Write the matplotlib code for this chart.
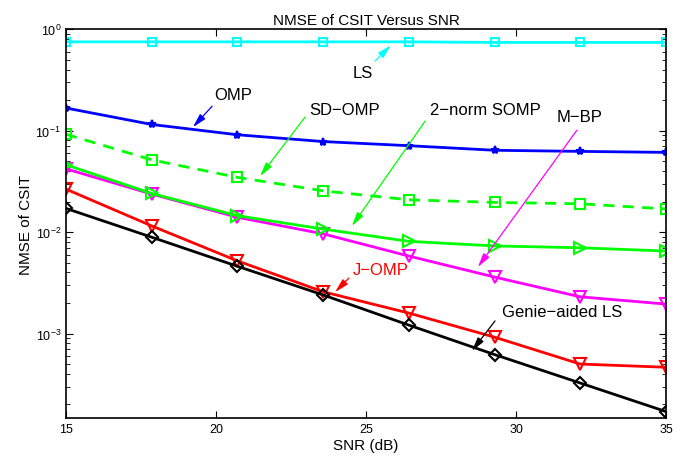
import matplotlib
matplotlib.use("Agg")
import matplotlib.pyplot as plt

plt.rcParams['font.family'] = ['Liberation Sans', 'DejaVu Sans']
plt.rcParams['axes.unicode_minus'] = True

snr = [15, 17.857, 20.714, 23.571, 26.429, 29.286, 32.143, 35]

# NMSE values
ls_vals = [0.75, 0.75, 0.75, 0.75, 0.75, 0.74, 0.74, 0.74]
omp_vals = [0.167, 0.115, 0.091, 0.078, 0.071, 0.064, 0.0624, 0.061]
sdomp_vals = [0.092, 0.0515, 0.0346, 0.0255, 0.0208, 0.0196, 0.019, 0.0169]
somp_vals = [0.046, 0.024, 0.0145, 0.0107, 0.0081, 0.0073, 0.0070, 0.0065]
mbp_vals = [0.042, 0.0237, 0.0140, 0.0096, 0.0058, 0.0036, 0.0023, 0.00195]
jomp_vals = [0.0265, 0.0115, 0.0052, 0.00258, 0.00159, 0.00092, 0.0005, 0.000465]
genie_vals = [0.0171, 0.0089, 0.0046, 0.0024, 0.00121, 0.00062, 0.000325, 0.00017]

fig = plt.figure(figsize=(6.99, 4.64), dpi=100)
ax = fig.add_axes([0.0944, 0.097, 0.8584, 0.838])

lw = 2.0
ax.semilogy(snr, ls_vals, color='cyan', lw=lw, marker='s', ms=6, mfc='none', mew=1.5)
ax.semilogy(snr, omp_vals, color='blue', lw=lw, marker='*', ms=6, mew=1.5)
ax.semilogy(snr, sdomp_vals, color='#00ff00', lw=lw, ls='--', dashes=(4, 3), marker='s', ms=7, mfc='none', mew=1.5)
ax.semilogy(snr, mbp_vals, color='magenta', lw=lw, marker='v', ms=9, mfc='none', mew=1.5)
ax.semilogy(snr, somp_vals, color='#00ff00', lw=lw, marker='>', ms=9, mfc='none', mew=1.5)
ax.semilogy(snr, jomp_vals, color='red', lw=lw, marker='v', ms=9, mfc='none', mew=1.5)
ax.semilogy(snr, genie_vals, color='black', lw=lw, marker='D', ms=6, mfc='none', mew=1.5)

ax.set_xlim(15, 35)
ax.set_ylim(1.47e-4, 1)
ax.set_xticks([15, 20, 25, 30, 35])
for s in ax.spines.values():
    s.set_linewidth(1.2)
ax.tick_params(which='both', direction='in', top=True, right=True, labelsize=9)
ax.tick_params(which='major', length=5)
ax.tick_params(which='minor', length=3)
ax.set_xlabel('SNR (dB)', fontsize=11, labelpad=2)
ax.set_ylabel('NMSE of CSIT', fontsize=11, labelpad=2)
ax.set_title('NMSE of CSIT Versus SNR', fontsize=11, pad=4)

def note(txt, xy, tail, txy, col, tcol=None):
    ax.annotate('', xy=xy, xytext=tail,
                arrowprops=dict(arrowstyle='-|>,head_width=0.18,head_length=0.7', color=col,
                                lw=0.9, mutation_scale=12, shrinkA=0, shrinkB=0))
    ax.text(txy[0], txy[1], txt, color=tcol or 'black', fontsize=12, ha='center', va='center')

note('LS', (25.83, 0.695), (25.3, 0.484), (24.9, 0.377), 'cyan')
note('OMP', (19.23, 0.108), (19.87, 0.174), (20.57, 0.229), 'blue')
note('SD\u2212OMP', (21.47, 0.0356), (22.97, 0.136), (24.3, 0.163), '#00ff00')
note('2\u2212norm SOMP', (24.53, 0.01146), (26.97, 0.124), (28.97, 0.163), '#00ff00')
note('M\u2212BP', (28.73, 0.00452), (32.03, 0.101), (32.13, 0.139), 'magenta')
note('J\u2212OMP', (23.97, 0.00256), (24.43, 0.00352), (25.5, 0.00432), 'red', 'red')
note('Genie\u2212aided LS', (28.53, 0.000673), (29.3, 0.00133), (31.53, 0.00163), 'black')

fig.savefig('out.png', dpi=100)
